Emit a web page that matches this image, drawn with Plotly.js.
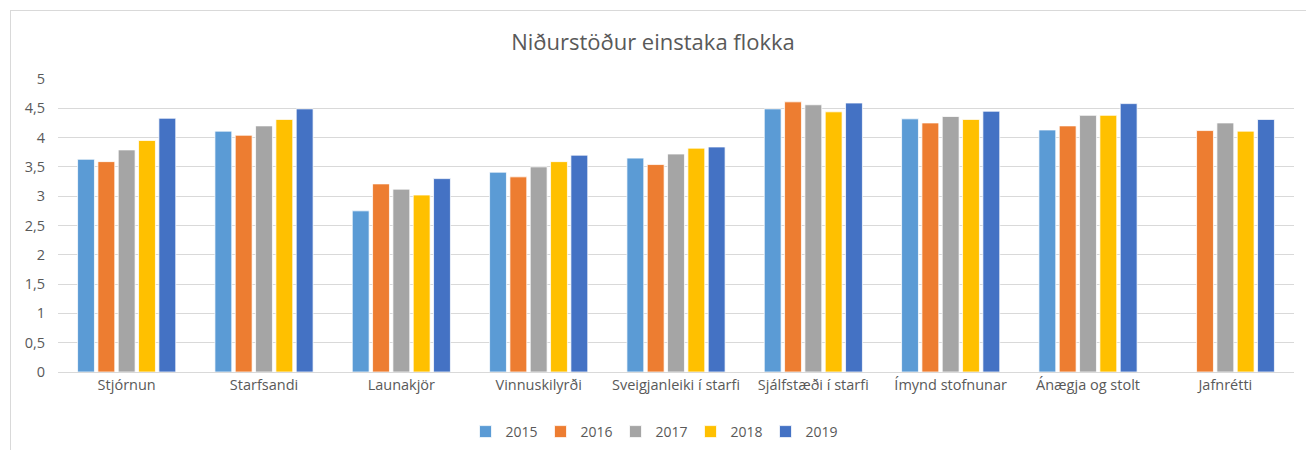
<!DOCTYPE html>
<html>
<head>
<meta charset="utf-8">
<script src="https://cdn.plot.ly/plotly-3.0.1.min.js"></script>
<style>
  html, body { margin: 0; padding: 0; background: #ffffff; }
  #frame { position: absolute; left: 10px; top: 10px; width: 1310px; height: 460px; border: 1px solid #d9d9d9; box-sizing: border-box; }
  #chart { position: absolute; left: 0; top: 0; width: 1306px; height: 450px; }
</style>
</head>
<body>
<div id="frame"></div>
<div id="chart"></div>
<script>
const categories = ["Stjórnun", "Starfsandi", "Launakjör", "Vinnuskilyrði", "Sveigjanleiki í starfi", "Sjálfstæði í starfi", "Ímynd stofnunar", "Ánægja og stolt", "Jafnrétti"];
const years = ["2015", "2016", "2017", "2018", "2019"];
const v2015 = [3.63, 4.11, 2.75, 3.41, 3.65, 4.49, 4.32, 4.13, null];
const v2016 = [3.59, 4.04, 3.21, 3.33, 3.54, 4.61, 4.25, 4.20, 4.12];
const v2017 = [3.79, 4.20, 3.12, 3.50, 3.72, 4.56, 4.36, 4.38, 4.25];
const v2018 = [3.95, 4.31, 3.02, 3.59, 3.82, 4.44, 4.31, 4.38, 4.11];
const v2019 = [4.33, 4.49, 3.30, 3.70, 3.84, 4.59, 4.45, 4.58, 4.31];
const colors = ["#5b9bd5", "#ed7d31", "#a5a5a5", "#ffc000", "#4472c4"];
const series = [v2015, v2016, v2017, v2018, v2019];

const traces = series.map((vals, i) => ({
  type: "bar",
  name: years[i],
  x: categories,
  y: vals,
  marker: { color: colors[i], line: { color: "#ffffff", width: 0.75 } },
  hoverinfo: "x+y+name"
}));

const font = "Open Sans, Liberation Sans, sans-serif";
const layout = {
  width: 1306,
  height: 450,
  margin: { l: 58, r: 12, t: 79, b: 78 },
  paper_bgcolor: "rgba(0,0,0,0)",
  plot_bgcolor: "rgba(0,0,0,0)",
  separators: ", ",
  font: { family: font, color: "#595959", size: 14 },
  title: { text: "Niðurstöður einstaka flokka", x: 0.5, xanchor: "center", y: 0.905, yanchor: "middle", font: { family: font, size: 22, color: "#595959" } },
  barmode: "group",
  bargap: 0.26,
  bargroupgap: 0.17,
  showlegend: true,
  legend: { orientation: "h", x: 0.5, xanchor: "center", xref: "container", y: 0.04, yref: "container", yanchor: "middle", font: { size: 14, color: "#595959" }, itemwidth: 30, entrywidth: 30, entrywidthmode: "pixels", traceorder: "normal" },
  xaxis: {
    type: "category",
    showgrid: false,
    showline: true,
    linecolor: "#d9d9d9",
    linewidth: 1,
    ticks: "",
    tickfont: { size: 14.5, color: "#595959" },
    automargin: false
  },
  yaxis: {
    range: [0, 5],
    dtick: 0.5,
    tick0: 0,
    showgrid: true,
    gridcolor: "#d9d9d9",
    gridwidth: 1,
    zeroline: false,
    showline: false,
    ticks: "",
    ticklabelstandoff: 12,
    tickfont: { size: 14.5, color: "#595959" },
    tickformat: ",~r",
    automargin: false
  }
};

Plotly.newPlot("chart", traces, layout, { displayModeBar: false, staticPlot: true });
</script>
</body>
</html>
